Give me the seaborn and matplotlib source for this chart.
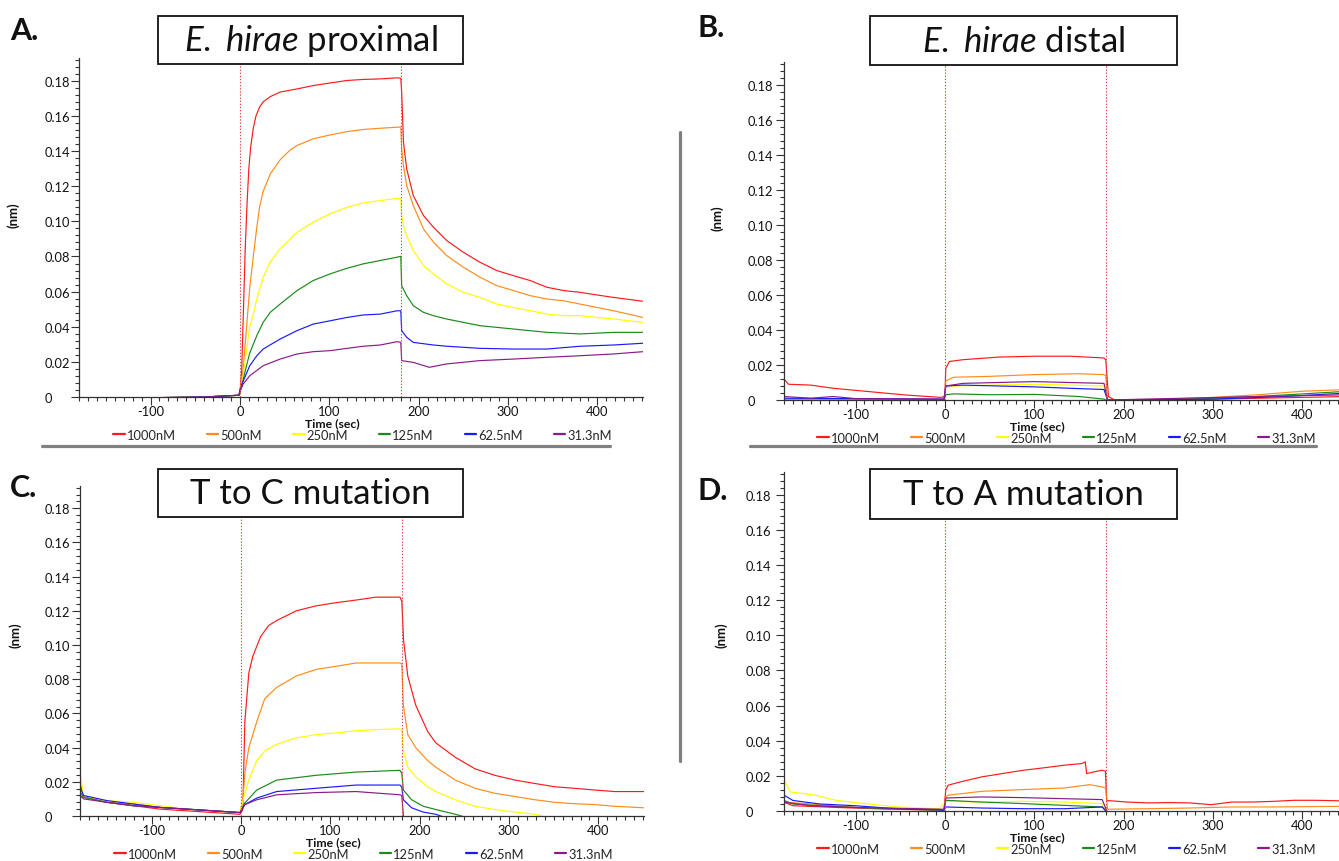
import numpy as np
import pandas as pd
import matplotlib
matplotlib.use("Agg")
import matplotlib.pyplot as plt
import seaborn as sns
from matplotlib.patches import Rectangle
from matplotlib.lines import Line2D
from matplotlib.ticker import MultipleLocator, FuncFormatter

# ---------------- data ----------------
concentrations = ["1000nM", "500nM", "250nM", "125nM", "62.5nM", "31.3nM"]
colors = ["#ff1a1a", "#ff8c1a", "#ffff00", "#1a8a1a", "#1a1aff", "#8a1a8a"]

# Panel A: E. hirae proximal  (time sec, response nm)
A_1000 = [(-180, -0.001), (-40, 0.0), (-1, 0.001), (0, 0.002), (2, 0.015), (4, 0.05), (6, 0.085), (8, 0.11),
          (10, 0.13), (12, 0.142), (15, 0.153), (18, 0.16), (22, 0.165), (26, 0.168), (34, 0.171), (45, 0.1736),
          (64, 0.1754), (82, 0.1773), (101, 0.1788), (120, 0.1802), (138, 0.1808), (157, 0.1811), (176, 0.1817),
          (180, 0.1815), (181, 0.1736), (183, 0.1451), (186.6, 0.1299), (194, 0.1147), (205.4, 0.1033),
          (216.5, 0.0967), (231.4, 0.0891), (250, 0.0824), (268.7, 0.0767), (287.4, 0.072), (306, 0.0691),
          (324.8, 0.0663), (343.4, 0.0625), (362, 0.0606), (380.7, 0.0596), (399.4, 0.0581), (418, 0.0567),
          (451, 0.0545)]
A_500 = [(-180, -0.001), (-40, 0.0), (-1, 0.001), (0, 0.003), (3.7, 0.016), (7.5, 0.04), (11, 0.062), (15, 0.08),
         (19, 0.097), (22, 0.108), (26, 0.117), (34, 0.127), (45, 0.135), (56, 0.1405), (64, 0.1432), (82, 0.147),
         (101, 0.1492), (120, 0.1511), (138, 0.1523), (157, 0.153), (176, 0.1536), (180, 0.1536), (181, 0.1413),
         (183, 0.1318), (186.6, 0.1204), (194, 0.109), (205.4, 0.0957), (216.5, 0.0882), (231.4, 0.0805),
         (250, 0.0739), (268.7, 0.0682), (287.4, 0.0634), (306, 0.0606), (324.8, 0.0577), (343.4, 0.0558),
         (362, 0.0548), (380.7, 0.0529), (399.4, 0.051), (418, 0.0491), (451, 0.0453)]
A_250 = [(-180, -0.001), (-40, 0.0), (-1, 0.001), (0, 0.003), (3.7, 0.012), (7.5, 0.027), (11, 0.04), (15, 0.047),
         (19, 0.056), (26, 0.068), (34, 0.077), (45, 0.0843), (64, 0.0938), (82, 0.0995), (101, 0.1043),
         (120, 0.108), (138, 0.1105), (157, 0.1118), (176, 0.1131), (180, 0.1128), (181, 0.1033), (183, 0.0977),
         (186.6, 0.092), (194, 0.0834), (205.4, 0.0748), (216.5, 0.0701), (231.4, 0.0644), (250, 0.0596),
         (268.7, 0.0567), (287.4, 0.0529), (306, 0.051), (324.8, 0.0491), (343.4, 0.0472), (362, 0.0463),
         (380.7, 0.0463), (399.4, 0.0453), (418, 0.0444), (451, 0.0425)]
A_125 = [(-180, -0.001), (-40, 0.0), (-1, 0.001), (0, 0.003), (3.7, 0.01), (7.5, 0.018), (11, 0.025), (19, 0.035),
         (26, 0.0425), (34, 0.0482), (45, 0.0529), (64, 0.0606), (82, 0.0663), (101, 0.0701), (120, 0.0733),
         (138, 0.0758), (157, 0.0777), (176, 0.0796), (180, 0.0801), (181, 0.0634), (186.6, 0.0577), (194, 0.052),
         (205.4, 0.0482), (216.5, 0.0463), (231.4, 0.0444), (250, 0.0425), (268.7, 0.0406), (306, 0.0387),
         (343.4, 0.0368), (380.7, 0.0359), (418, 0.0368), (451, 0.0368)]
A_62 = [(-180, -0.001), (-40, 0.0), (-1, 0.001), (0, 0.004), (3.7, 0.009), (11, 0.0178), (19, 0.0235), (26, 0.0273),
        (45, 0.033), (64, 0.0378), (82, 0.0415), (101, 0.0434), (120, 0.0453), (138, 0.0467), (157, 0.0472),
        (176, 0.0491), (180, 0.0491), (181, 0.0378), (186.6, 0.034), (194, 0.0311), (216.5, 0.0296),
        (231.4, 0.0289), (268.7, 0.0277), (306, 0.0273), (343.4, 0.0273), (380.7, 0.0289), (418, 0.0296),
        (451, 0.0306)]
A_31 = [(-180, -0.001), (-40, 0.0), (-1, 0.001), (0, 0.003), (3.7, 0.0074), (11, 0.0121), (26, 0.0178), (45, 0.0216),
        (64, 0.0245), (82, 0.0258), (101, 0.0264), (120, 0.0277), (138, 0.0289), (157, 0.0296), (176, 0.0315),
        (180, 0.0311), (181, 0.0207), (194, 0.0197), (212, 0.0169), (231, 0.0188), (268, 0.0207), (306, 0.0216),
        (343, 0.0226), (381, 0.0235), (418, 0.0245), (451, 0.0258)]

# Panel B: E. hirae distal
B_1000 = [(-180, 0.012), (-175, 0.009), (-150, 0.0085), (-125, 0.0067), (-85, 0.0048), (-45, 0.0029), (-5, 0.0015),
          (0, 0.002), (1, 0.018), (5, 0.022), (20, 0.023), (60, 0.0245), (100, 0.025), (140, 0.025), (178, 0.024),
          (180, 0.023), (183, 0.002), (190, 0.0), (300, 0.0005), (451, 0.002)]
B_500 = [(-180, -0.0005), (-1, 0.0), (0, 0.002), (1, 0.011), (10, 0.013), (50, 0.0135), (100, 0.0145), (150, 0.015),
         (178, 0.0145), (180, 0.014), (182, 0.0), (250, 0.0005), (300, 0.0015), (350, 0.003), (400, 0.005),
         (451, 0.006)]
B_250 = [(-180, -0.0005), (-1, 0.0), (0, 0.002), (1, 0.007), (10, 0.008), (100, 0.009), (178, 0.008),
         (182, -0.0005), (451, -0.0005)]
B_125 = [(-180, 0.0), (-1, 0.0), (1, 0.003), (10, 0.0035), (50, 0.003), (100, 0.0032), (150, 0.002), (178, 0.0005),
         (182, -0.0005), (250, 0.0), (350, 0.002), (451, 0.005)]
B_62 = [(-180, 0.001), (-100, 0.0008), (-1, 0.0005), (1, 0.008), (20, 0.0085), (60, 0.008), (100, 0.0075),
        (150, 0.0065), (178, 0.006), (182, 0.0), (300, 0.0005), (380, 0.002), (451, 0.004)]
B_31 = [(-180, 0.002), (-150, 0.001), (-125, 0.002), (-100, 0.0008), (-1, 0.0005), (1, 0.008), (20, 0.0095),
        (100, 0.0105), (178, 0.0095), (182, 0.0), (350, 0.002), (451, 0.003)]

# Panel C: T to C mutation
C_1000 = [(-180, 0.02), (-176, 0.011), (-150, 0.008), (-120, 0.006), (-90, 0.004), (-60, 0.003), (-30, 0.002),
          (-1, 0.001), (2.2, 0.0038), (4.4, 0.055), (8.9, 0.0838), (13.3, 0.0933), (22, 0.1048), (31, 0.1114),
          (40, 0.1143), (62, 0.12), (84, 0.1229), (107, 0.1248), (129, 0.1263), (151, 0.128), (178, 0.128),
          (180, 0.1257), (182, 0.1029), (186.7, 0.0819), (195.6, 0.0648), (208.9, 0.0495), (217.8, 0.0429),
          (240, 0.0343), (262, 0.0276), (284, 0.0238), (306.7, 0.021), (329, 0.019), (351, 0.0171), (373, 0.0162),
          (395.6, 0.0152), (418, 0.0143), (451, 0.0143)]
C_500 = [(-180, 0.012), (-176, 0.011), (-150, 0.008), (-120, 0.007), (-90, 0.005), (-60, 0.004), (-30, 0.003),
         (-1, 0.002), (2.2, 0.0095), (4.4, 0.0248), (8.9, 0.04), (17.8, 0.0552), (26.7, 0.0686), (40, 0.0752),
         (62, 0.0819), (84, 0.0857), (107, 0.0876), (129, 0.0895), (151, 0.0895), (178, 0.0895), (180, 0.089),
         (181.8, 0.0648), (186.7, 0.0476), (195.6, 0.04), (209, 0.0324), (218, 0.0286), (240, 0.021), (262, 0.0162),
         (284, 0.0133), (306.7, 0.0114), (329, 0.0095), (351, 0.008), (373, 0.0072), (395.6, 0.0067),
         (418, 0.0057), (451, 0.0048)]
C_250 = [(-180, 0.025), (-176, 0.012), (-150, 0.009), (-120, 0.008), (-90, 0.006), (-60, 0.004), (-30, 0.003),
         (-1, 0.002), (4.4, 0.0133), (8.9, 0.021), (17.8, 0.0324), (26.7, 0.0381), (40, 0.0419), (62, 0.0457),
         (84, 0.0476), (107, 0.0486), (129, 0.0499), (151, 0.0505), (178, 0.051), (180, 0.05), (181.8, 0.0381),
         (186.7, 0.0286), (195.6, 0.0229), (209, 0.0171), (218, 0.0143), (240, 0.0095), (262, 0.0057),
         (284, 0.0038), (306.7, 0.0023), (329, 0.001), (345, -0.001), (451, -0.004)]
C_125 = [(-180, 0.014), (-176, 0.011), (-150, 0.008), (-120, 0.006), (-90, 0.005), (-60, 0.004), (-30, 0.003),
         (-1, 0.002), (4.4, 0.0076), (17.8, 0.0152), (40, 0.021), (84, 0.0238), (129, 0.0257), (178, 0.0267),
         (180, 0.025), (181.8, 0.0152), (191, 0.0095), (204, 0.0057), (218, 0.0038), (240, 0.001), (260, -0.002),
         (451, -0.004)]
C_62 = [(-180, 0.017), (-176, 0.012), (-150, 0.009), (-120, 0.007), (-90, 0.005), (-60, 0.004), (-30, 0.003),
        (-1, 0.002), (4.4, 0.0067), (17.8, 0.0105), (40, 0.0143), (84, 0.0162), (129, 0.0181), (178, 0.0181),
        (180, 0.017), (181.8, 0.0095), (191, 0.0048), (204, 0.0023), (218, 0.001), (235, -0.002), (451, -0.004)]
C_31 = [(-180, 0.012), (-176, 0.01), (-150, 0.008), (-120, 0.006), (-90, 0.005), (-60, 0.004), (-30, 0.003),
        (-1, 0.002), (4.4, 0.0067), (17.8, 0.0095), (40, 0.0124), (84, 0.0137), (129, 0.0143), (178, 0.0124),
        (180, 0.012), (182, -0.001), (451, -0.003)]

# Panel D: T to A mutation
D_1000 = [(-180, 0.005), (-170, 0.003), (-120, 0.002), (-60, 0.001), (-1, 0.0005), (1, 0.012), (3.7, 0.0147),
          (17.7, 0.0166), (41, 0.0194), (64, 0.0213), (88, 0.0232), (111, 0.0246), (134, 0.0261), (153, 0.027),
          (157, 0.028), (158.6, 0.0213), (167, 0.0223), (176, 0.0232), (179.6, 0.0227), (181, 0.006), (204, 0.0051),
          (227, 0.0046), (251, 0.0048), (274, 0.0046), (298, 0.0036), (321, 0.0051), (345, 0.0051), (368, 0.0055),
          (391, 0.0061), (414, 0.0061), (451, 0.0057)]
D_500 = [(-180, 0.005), (-150, 0.004), (-100, 0.002), (-40, 0.001), (-1, 0.0005), (1, 0.008), (3.7, 0.009),
         (41, 0.0112), (88, 0.0122), (134, 0.0131), (162, 0.015), (176, 0.0137), (180, 0.013), (182, 0.001),
         (227, 0.0013), (274, 0.0017), (321, 0.0023), (368, 0.0023), (451, 0.0027)]
D_250 = [(-180, 0.018), (-173, 0.0109), (-145, 0.009), (-122, 0.0061), (-90, 0.0042), (-52, 0.0023), (-6, 0.0013),
         (1, 0.0055), (41, 0.0051), (88, 0.0055), (134, 0.0051), (176, 0.0042), (182, -0.001), (451, -0.001)]
D_125 = [(-180, 0.006), (-170, 0.004), (-140, 0.003), (-100, 0.002), (-50, 0.001), (-1, 0.0005), (1, 0.0061),
         (41, 0.0051), (88, 0.0042), (134, 0.0032), (176, 0.0023), (182, -0.001), (451, -0.001)]
D_62 = [(-180, 0.009), (-170, 0.006), (-140, 0.004), (-100, 0.003), (-60, 0.0015), (-1, 0.0005), (1, 0.0023),
        (41, 0.0017), (88, 0.0013), (134, 0.0013), (176, 0.0023), (182, -0.001), (451, -0.001)]
D_31 = [(-180, 0.005), (-150, 0.003), (-100, 0.002), (-50, 0.0015), (-1, 0.001), (1, 0.0074), (41, 0.008),
        (88, 0.0076), (134, 0.007), (176, 0.0065), (182, -0.001), (451, -0.001)]

panel_titles = ["$\\mathit{E.}$ $\\mathit{hirae}$ proximal", "$\\mathit{E.}$ $\\mathit{hirae}$ distal",
                "T to C mutation", "T to A mutation"]
panel_letters = ["A.", "B.", "C.", "D."]
x_ticks_major = 100
y_ticks_major = 0.02

# ---------------- style ----------------
sns.set_style("white")
plt.rcParams["font.family"] = ["Lato", "DejaVu Sans"]
plt.rcParams["mathtext.fontset"] = "custom"
plt.rcParams["mathtext.rm"] = "Lato"
plt.rcParams["mathtext.it"] = "Lato:italic"
plt.rcParams["axes.unicode_minus"] = False

W, H = 1339, 862
fig = plt.figure(figsize=(W / 100, H / 100), dpi=100)
fig.patch.set_facecolor("white")


def px_axes(left, bottom_px, width, height):
    return fig.add_axes([left / W, (H - bottom_px) / H, width / W, height / H])


def long_frame(series):
    rows = []
    for conc, pts in zip(concentrations, series):
        for t, v in pts:
            rows.append((conc, t, v))
    return pd.DataFrame(rows, columns=["conc", "t", "v"])


panels = [
    dict(series=[A_1000, A_500, A_250, A_125, A_62, A_31], box=(79, 398, 564, 339),
         ylab=(20, 215), leg_x=113, tlx=47),
    dict(series=[B_1000, B_500, B_250, B_125, B_62, B_31], box=(784, 401, 564, 338),
         ylab=(724, 218), leg_x=817, tlx=750),
    dict(series=[C_1000, C_500, C_250, C_125, C_62, C_31], box=(80, 817, 564, 330),
         ylab=(22, 635), leg_x=114, tlx=47),
    dict(series=[D_1000, D_500, D_250, D_125, D_62, D_31], box=(784, 812, 564, 339),
         ylab=(727, 635), leg_x=817, tlx=748),
]

axes = []
for p in panels:
    left, bot, w, h = p["box"]
    ax = px_axes(left, bot, w, h)
    axes.append(ax)
    df = long_frame(p["series"])
    sns.lineplot(data=df, x="t", y="v", hue="conc", hue_order=concentrations, palette=colors,
                 estimator=None, sort=False, linewidth=0.85, ax=ax, legend=False)
    ax.axvline(0, color="#e04040", ls=(0, (1.2, 1.6)), lw=0.8, zorder=3)
    ax.axvline(180, color="#e04040", ls=(0, (1.2, 1.6)), lw=0.8, zorder=3)
    ax.set_xlim(-180, 451)
    ax.set_ylim(0, 0.193)
    ax.set_facecolor("none")
    for s in ["top", "right"]:
        ax.spines[s].set_visible(False)
    for s in ["left", "bottom"]:
        ax.spines[s].set_color("#333333")
        ax.spines[s].set_linewidth(0.9)
    ax.xaxis.set_major_locator(MultipleLocator(x_ticks_major))
    ax.xaxis.set_minor_locator(MultipleLocator(10))
    ax.yaxis.set_major_locator(MultipleLocator(y_ticks_major))
    ax.yaxis.set_minor_locator(MultipleLocator(0.004))
    ax.xaxis.set_major_formatter(FuncFormatter(lambda v, pos: f"{int(round(v))}"))
    ax.yaxis.set_major_formatter(FuncFormatter(lambda v, pos: "0" if abs(v) < 1e-9 else f"{v:.2f}"))
    ax.tick_params(axis="both", which="both", direction="out", color="#333333", width=0.8,
                   bottom=True, left=True)
    ax.tick_params(axis="both", which="major", length=5.5, labelsize=9.3, labelcolor="#111111")
    ax.tick_params(axis="both", which="minor", length=3.2)
    ypad = (left - p["tlx"] - 5.5) * 0.72
    ax.tick_params(axis="y", which="major", pad=ypad)
    ax.tick_params(axis="x", which="major", pad=0.3)
    for lbl in ax.get_yticklabels():
        lbl.set_horizontalalignment("left")
    ax.set_xlabel("Time (sec)", fontsize=8.8, fontweight="bold", color="#111111", va="top")
    ax.set_ylabel("(nm)", fontsize=9.5, fontweight="bold", color="#111111")
    ax.yaxis.set_label_coords((p["ylab"][0] - left) / w, (bot - p["ylab"][1]) / h)

# stack tick labels / axis title / legend without overlapping
fig.canvas.draw()
r = fig.canvas.get_renderer()
for ax in axes:
    labs = [l for l in ax.get_xticklabels() if l.get_text()]
    y_bottom = min(l.get_window_extent(r).y0 for l in labs)
    ya = ax.transAxes.inverted().transform((0, y_bottom - 0.3))[1]
    ax.xaxis.set_label_coords(0.45, ya)

fig.canvas.draw()
for ax, p in zip(axes, panels):
    left, bot, w, h = p["box"]
    xl_bottom = ax.xaxis.label.get_window_extent(r).y0
    ya = ax.transAxes.inverted().transform((0, xl_bottom - 0.3))[1]
    handles = [Line2D([], [], color=c, lw=1.6) for c in colors]
    ax.legend(handles, concentrations, ncol=6, loc="upper left",
              bbox_to_anchor=((p["leg_x"] - left) / w, ya),
              frameon=False, handlelength=0.9, handletextpad=0.15, columnspacing=2.4,
              borderpad=0, borderaxespad=0, fontsize=9.3)

# title boxes
boxes = [(158, 17, 463, 65), (870, 17, 1177, 66), (158, 470, 463, 518), (870, 470, 1177, 520)]
for (x0, y0, x1, y1), title in zip(boxes, panel_titles):
    rect = Rectangle((x0 / W, 1 - y1 / H), (x1 - x0) / W, (y1 - y0) / H, transform=fig.transFigure,
                     facecolor="white", edgecolor="#111111", lw=1.3, zorder=5)
    fig.add_artist(rect)
    fig.text((x0 + x1) / 2 / W, 1 - (y0 + y1) / 2 / H, title, ha="center", va="center",
             fontsize=25, color="#111111", zorder=6)

# panel letters
letters_pos = [(10, 40), (697, 37), (10, 497), (697, 500)]
for (x, y), letter in zip(letters_pos, panel_letters):
    fig.text(x / W, 1 - y / H, letter, ha="left", va="baseline", fontsize=22, fontweight="bold",
             color="#111111")

# separators
sep = dict(color="#808080", lw=2.3, transform=fig.transFigure)
fig.add_artist(Line2D([42 / W, 610 / W], [1 - 447 / H, 1 - 447 / H], **sep))
fig.add_artist(Line2D([750 / W, 1316 / W], [1 - 447 / H, 1 - 447 / H], **sep))
fig.add_artist(Line2D([680 / W, 680 / W], [1 - 133 / H, 1 - 762 / H], **sep))

fig.savefig("out.png", dpi=100, facecolor="white")
